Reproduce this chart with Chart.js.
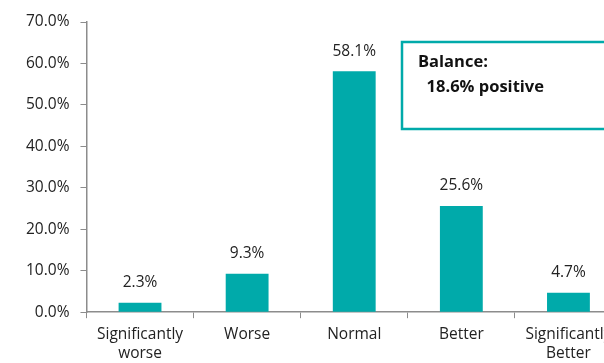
<!DOCTYPE html>
<html>
<head>
<meta charset="utf-8">
<script src="https://cdn.jsdelivr.net/npm/chart.js@4/dist/chart.umd.min.js"></script>
<style>
  html, body { margin: 0; padding: 0; background: #fff; overflow: hidden; }
  #wrap { position: absolute; left: 0; top: 0; width: 640px; height: 370px; }
</style>
</head>
<body>
<div id="wrap"><canvas id="c" width="640" height="370"></canvas></div>
<script>
const categories = [["Significantly", "worse"], "Worse", "Normal", "Better", ["Significantly", "Better"]];
const shares = [2.3, 9.3, 58.1, 25.6, 4.7];
const yTicks = [0, 10, 20, 30, 40, 50, 60, 70];
const balanceLines = ["Balance:", "  18.6% positive"];

const TEAL = "#00AAAA";
const AXIS = "#8C8C8C";
const FONT = "'Open Sans', Lato, sans-serif";

const valueLabels = {
  id: "valueLabels",
  afterDatasetsDraw(chart) {
    const ctx = chart.ctx;
    const meta = chart.getDatasetMeta(0);
    ctx.save();
    ctx.font = "15.5px " + FONT;
    ctx.fillStyle = "#222";
    ctx.textAlign = "center";
    ctx.textBaseline = "middle";
    meta.data.forEach((bar, i) => {
      ctx.fillText(shares[i].toFixed(1) + "%", bar.x, bar.y - 20);
    });
    ctx.restore();
  }
};

const balanceBox = {
  id: "balanceBox",
  afterDraw(chart) {
    const ctx = chart.ctx;
    ctx.save();
    ctx.strokeStyle = TEAL;
    ctx.lineWidth = 2.5;
    ctx.strokeRect(402, 42, 260, 87);
    ctx.font = "bold 16.5px " + FONT;
    ctx.fillStyle = "#111";
    ctx.textBaseline = "middle";
    ctx.textAlign = "left";
    ctx.fillText(balanceLines[0], 418, 62);
    ctx.fillText(balanceLines[1], 418, 87);
    ctx.restore();
  }
};

new Chart(document.getElementById("c"), {
  type: "bar",
  data: {
    labels: categories,
    datasets: [{
      data: shares,
      backgroundColor: TEAL,
      borderWidth: 0,
      barPercentage: 0.4,
      categoryPercentage: 1.0
    }]
  },
  options: {
    responsive: false,
    animation: false,
    layout: { padding: { top: 22, left: 15, right: 18, bottom: 0 } },
    plugins: { legend: { display: false }, tooltip: { enabled: false } },
    scales: {
      x: {
        offset: true,
        grid: { display: true, drawOnChartArea: false, color: AXIS, tickLength: 6, offset: true },
        border: { color: AXIS, width: 1.5 },
        ticks: { color: "#222", font: { family: FONT, size: 15.5, lineHeight: 1.22 }, padding: 7, maxRotation: 0, autoSkip: false }
      },
      y: {
        min: 0, max: 70,
        afterBuildTicks(scale) { scale.ticks = yTicks.map(v => ({ value: v })); },
        grid: { display: true, drawOnChartArea: false, color: AXIS, tickLength: 6 },
        border: { color: AXIS, width: 1.5 },
        ticks: { color: "#222", font: { family: FONT, size: 15.5 }, padding: 11,
                 callback: v => v.toFixed(1) + "%" }
      }
    }
  },
  plugins: [valueLabels, balanceBox]
});
</script>
</body>
</html>
